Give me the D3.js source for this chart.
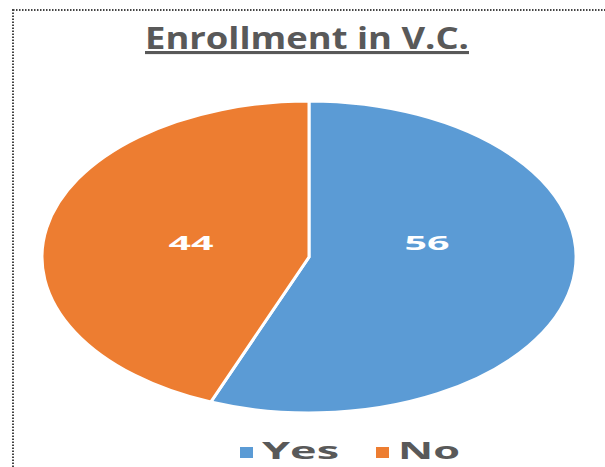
<!DOCTYPE html>
<html>
<head>
<meta charset="utf-8">
<script src="https://cdn.jsdelivr.net/npm/d3@7"></script>
<style>
  html, body { margin: 0; padding: 0; background: #fff; }
  svg { display: block; }
</style>
</head>
<body>
<svg id="chart" width="605" height="467"></svg>
<script>
// Enrollment split
const categories = ["Yes", "No"];
const values = [56, 44];
const colors = ["#5B9BD5", "#ED7D31"];
const title = "Enrollment in V.C.";

const W = 605, H = 467;
const svg = d3.select("#chart");
const font = "'Open Sans', 'DejaVu Sans', sans-serif";

// dotted frame (right and bottom sides fall outside the view)
svg.append("rect")
  .attr("x", 13).attr("y", 10)
  .attr("width", W + 20).attr("height", H + 20)
  .attr("fill", "none")
  .attr("stroke", "#444")
  .attr("stroke-width", 2)
  .attr("stroke-dasharray", "1.5,1.5");

// title
svg.append("text")
  .attr("x", 307).attr("y", 49)
  .attr("text-anchor", "middle")
  .attr("font-family", font)
  .attr("font-weight", 700)
  .attr("font-size", 31)
  .attr("fill", "#595959")
  .attr("text-decoration", "underline")
  .attr("textLength", 324)
  .attr("lengthAdjust", "spacingAndGlyphs")
  .text(title);

// pie drawn in a circle then stretched into an ellipse
const cx = 309, cy = 257, ry = 156, rx = 267;
const sx = rx / ry;

const pie = d3.pie().sort(null).value(d => d);
const arcs = pie(values);
const arc = d3.arc().innerRadius(0).outerRadius(ry);
const labelArc = d3.arc().innerRadius(ry * 0.45).outerRadius(ry * 0.45);

const g = svg.append("g")
  .attr("transform", `translate(${cx},${cy}) scale(${sx},1)`);

g.selectAll("path")
  .data(arcs)
  .join("path")
  .attr("d", arc)
  .attr("fill", (d, i) => colors[i])
  .attr("stroke", "#fff")
  .attr("stroke-width", 3)
  .attr("vector-effect", "non-scaling-stroke");

// value labels
svg.selectAll("text.val")
  .data(arcs)
  .join("text")
  .attr("class", "val")
  .attr("x", d => cx + labelArc.centroid(d)[0] * sx)
  .attr("y", cy - 7)
  .attr("text-anchor", "middle")
  .attr("font-family", font)
  .attr("font-weight", 700)
  .attr("font-size", 20)
  .attr("fill", "#fff")
  .attr("textLength", 45)
  .attr("lengthAdjust", "spacingAndGlyphs")
  .text(d => d.data);

// legend
const legendX = [240, 376];
const legendW = [77, 62];
const lg = svg.append("g");
categories.forEach((c, i) => {
  lg.append("rect")
    .attr("x", legendX[i]).attr("y", 447)
    .attr("width", 13).attr("height", 11)
    .attr("fill", colors[i]);
  lg.append("text")
    .attr("x", legendX[i] + 22).attr("y", 459)
    .attr("font-family", font)
    .attr("font-weight", 700)
    .attr("font-size", 23)
    .attr("fill", "#595959")
    .attr("textLength", legendW[i])
    .attr("lengthAdjust", "spacingAndGlyphs")
    .text(c);
});
</script>
</body>
</html>
